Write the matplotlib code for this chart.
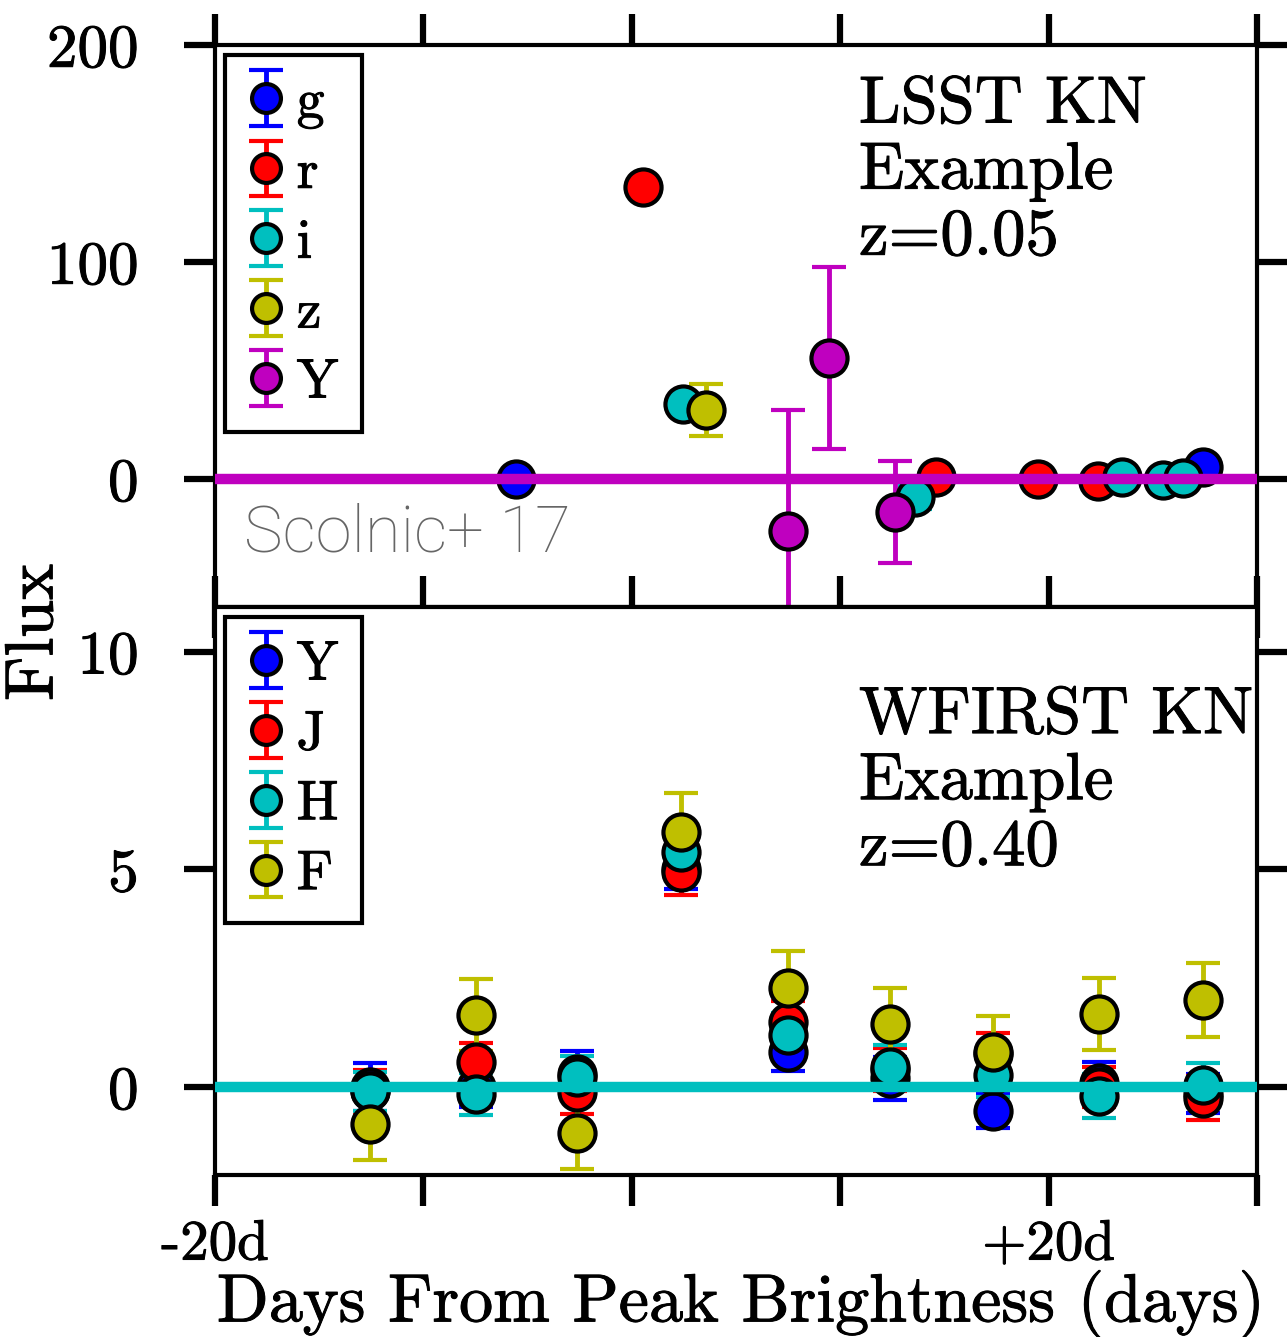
import matplotlib
matplotlib.use('Agg')
import matplotlib.pyplot as plt
import matplotlib.patheffects as pe

plt.rcParams['font.family'] = ['cmr10', 'DejaVu Serif']
plt.rcParams['axes.unicode_minus'] = False
plt.rcParams['axes.linewidth'] = 3

# LSST light curve (days from peak, flux, error)
lsst_bands = ['g', 'r', 'i', 'z', 'Y']
lsst_colors = [(0, 0, 1), (1, 0, 0), (0, .75, .75), (.75, .75, 0), (.75, 0, .75)]
lsst_days = [[-5.55, 27.4],
             [0.55, 14.6, 19.5, 22.35],
             [2.45, 13.6, 23.5, 25.5, 26.45],
             [3.55],
             [7.5, 9.45, 12.65]]
lsst_flux = [[0.0, 5.5],
             [134.6, 1.0, 0.0, -1.0],
             [34.6, -8.5, 1.0, -0.5, 0.5],
             [32.0],
             [-24.0, 55.8, -15.0]]
lsst_err = [[2, 2],
            [2, 2, 2, 2],
            [3, 5.5, 2, 2, 2],
            [12.0],
            [56.0, 42.0, 23.5]]

# WFIRST light curve, all bands share epochs
wf_bands = ['Y', 'J', 'H', 'F']
wf_colors = [(0, 0, 1), (1, 0, 0), (0, .75, .75), (.75, .75, 0)]
wf_days = [-12.55, -7.5, -2.65, 2.35, 7.5, 12.4, 17.35, 22.4, 27.4]
wf_flux = [[0.0, 0.0, 0.3, 5.0, 0.8, 0.2, -0.55, 0.1, -0.15],
           [-0.1, 0.57, -0.12, 4.95, 1.5, 0.4, 0.75, 0.0, -0.25],
           [-0.1, -0.16, 0.23, 5.4, 1.2, 0.47, 0.28, -0.2, 0.05],
           [-0.85, 1.65, -1.06, 5.86, 2.28, 1.46, 0.8, 1.68, 2.0]]
wf_err = [[0.55, 0.46, 0.53, 0.45, 0.42, 0.5, 0.38, 0.48, 0.45],
          [0.5, 0.45, 0.5, 0.53, 0.47, 0.5, 0.5, 0.45, 0.5],
          [0.45, 0.48, 0.48, 0.53, 0.5, 0.5, 0.5, 0.5, 0.5],
          [0.82, 0.83, 0.83, 0.9, 0.85, 0.82, 0.83, 0.82, 0.85]]

xticks = [-20, -10, 0, 10, 20, 30]
xticklabels = ['-20d', '', '', '', '+20d', '']

# slightly heavier glyphs for the serif text
bold = [pe.withStroke(linewidth=0.7, foreground='k')]

fig = plt.figure(figsize=(12.87, 13.37), dpi=100)
ax1 = fig.add_axes([0.1671, 0.546, 0.8096, 0.4203])
ax2 = fig.add_axes([0.1671, 0.1212, 0.8096, 0.4248])


def style(ax):
    ax.set_xlim(-20, 30)
    ax.set_xticks(xticks)
    ax.tick_params(direction='out', length=22, width=4.5, top=True, right=True,
                   labelsize=44, pad=10)
    ax.tick_params(axis='x', labelsize=41)
    ax.tick_params(axis='y', pad=33)


def draw(ax, days, flux, err, colors, labels):
    for d, f, e, c, lab in zip(days, flux, err, colors, labels):
        ax.errorbar(d, f, yerr=e, fmt='o', color=c, ms=26, mfc=c, mec='k',
                    mew=3, elinewidth=3.5, capsize=12, capthick=3.5, label=lab)


def legend(ax):
    leg = ax.legend(loc='upper left', bbox_to_anchor=(0.0096, 0.982), borderaxespad=0,
                    fontsize=40, markerscale=0.8, fancybox=False, edgecolor='k',
                    framealpha=1, handlelength=0.62, handletextpad=0.25,
                    labelspacing=0.36, borderpad=0.42)
    leg.get_frame().set_linewidth(3)
    for t in leg.get_texts():
        t.set_path_effects(bold)
    return leg


def heavy_ticks(ax):
    for t in ax.get_xticklabels() + ax.get_yticklabels():
        t.set_path_effects(bold)


draw(ax1, lsst_days, lsst_flux, lsst_err, lsst_colors, lsst_bands)
ax1.axhline(0, color=(.75, 0, .75), lw=7.5, zorder=10)
style(ax1)
ax1.set_ylim(-59, 200)
ax1.set_yticks([0, 100, 200])
ax1.set_xticklabels([])
heavy_ticks(ax1)
legend(ax1)
ax1.text(0.618, 0.945, 'LSST KN\nExample\nz=0.05', transform=ax1.transAxes,
         fontsize=48, va='top', ha='left', linespacing=1.14, path_effects=bold)
ax1.text(0.028, 0.13, 'Scolnic+ 17', transform=ax1.transAxes, fontsize=47,
         color='#666666', family='Roboto', weight='light', va='center')

days2 = [wf_days] * len(wf_bands)
draw(ax2, days2, wf_flux, wf_err, wf_colors, wf_bands)
ax2.axhline(0, color=(0, .75, .75), lw=7.5, zorder=10)
style(ax2)
ax2.set_ylim(-2.02, 11.03)
ax2.set_yticks([0, 5, 10])
ax2.set_xticklabels(xticklabels)
heavy_ticks(ax2)
legend(ax2)
ax2.text(0.618, 0.86, 'WFIRST KN\nExample\nz=0.40', transform=ax2.transAxes,
         fontsize=48, va='top', ha='left', linespacing=1.14, path_effects=bold)
ax2.set_xlabel('Days From Peak Brightness (days)', fontsize=49, path_effects=bold)
ax2.xaxis.set_label_coords(0.505, -0.166)

fig.text(0.027, 0.527, 'Flux', rotation=90, fontsize=49, ha='center', va='center',
         path_effects=bold)

fig.savefig('out.png', dpi=100)
